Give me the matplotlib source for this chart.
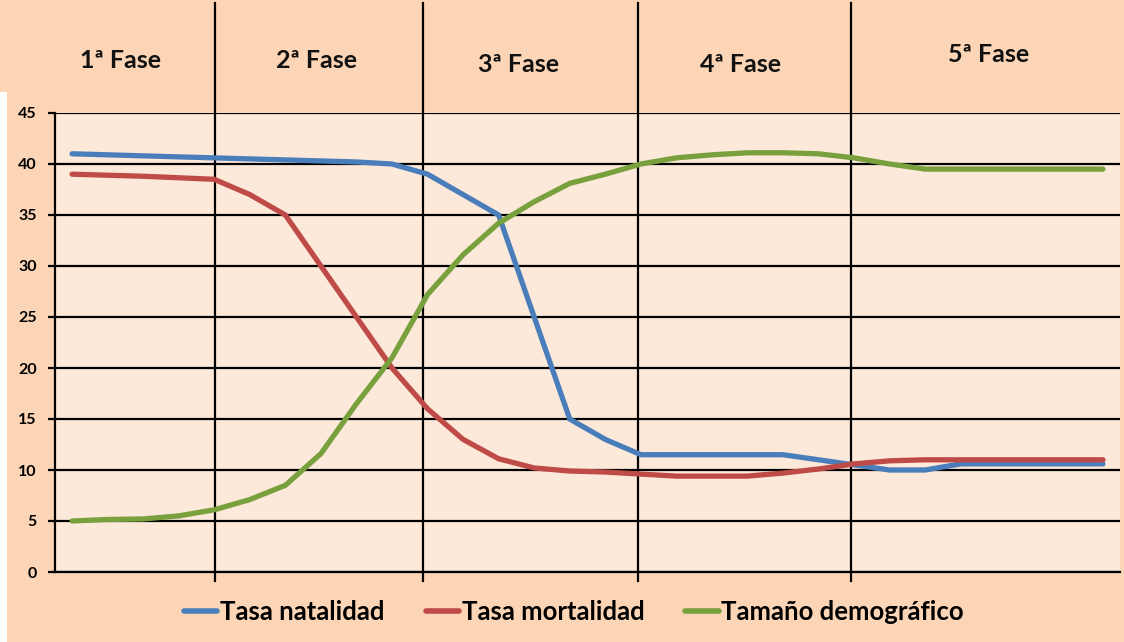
import matplotlib
matplotlib.use("Agg")
import matplotlib.pyplot as plt
from matplotlib.patches import Rectangle

# ---- data ----
points = list(range(30))
natalidad = [41.0, 40.9, 40.8, 40.7, 40.6, 40.5, 40.4, 40.3, 40.2, 40.0,
             39.0, 37.0, 35.0, 25.0, 15.0, 13.0, 11.5, 11.5, 11.5, 11.5,
             11.5, 11.0, 10.5, 10.0, 10.0, 10.6, 10.6, 10.6, 10.6, 10.6]
mortalidad = [39.0, 38.9, 38.8, 38.65, 38.5, 37.0, 35.0, 30.0, 25.0, 20.0,
              16.0, 13.0, 11.1, 10.2, 9.9, 9.8, 9.6, 9.4, 9.4, 9.4,
              9.7, 10.1, 10.6, 10.9, 11.0, 11.0, 11.0, 11.0, 11.0, 11.0]
demografico = [5.0, 5.15, 5.2, 5.5, 6.1, 7.1, 8.5, 11.6, 16.5, 21.0,
               27.2, 31.1, 34.2, 36.3, 38.1, 39.0, 40.0, 40.6, 40.9, 41.1,
               41.1, 41.0, 40.6, 40.0, 39.5, 39.5, 39.5, 39.5, 39.5, 39.5]
series_names = ["Tasa natalidad", "Tasa mortalidad", "Tamaño demográfico"]
phase_labels = ["1ª Fase", "2ª Fase", "3ª Fase", "4ª Fase", "5ª Fase"]
phase_bounds = [4.02, 9.87, 15.92, 21.91]
yticks = [0, 5, 10, 15, 20, 25, 30, 35, 40, 45]

# ---- style ----
W, H = 1124, 642
outer = "#FBD5B5"
inner = "#FDE9D9"
colors = ["#4A7EBB", "#BE4B48", "#78A03D"]
FONT = "Lato"

fig = plt.figure(figsize=(W / 100, H / 100), dpi=100, facecolor=outer)
# white strip at left edge
fig.patches.append(Rectangle((0, 0), 7 / W, (H - 92) / H, transform=fig.transFigure,
                             facecolor="white", edgecolor="none", zorder=0))

ax = fig.add_axes([55 / W, (H - 572) / H, (1120 - 55) / W, (572 - 113) / H])
ax.set_facecolor(inner)

for vals, c, name in zip([natalidad, mortalidad, demografico], colors, series_names):
    ax.plot(points, vals, color=c, lw=3.8, label=name, zorder=3,
            solid_joinstyle="miter", solid_capstyle="round")

ax.set_xlim(-0.48, 29.48)
ax.set_ylim(0, 45)
ax.set_yticks(yticks)
ax.set_xticks([])
ax.yaxis.grid(True, color="black", lw=1.6)
ax.set_axisbelow(True)
for s in ["top", "right"]:
    ax.spines[s].set_visible(False)
for s in ["left", "bottom"]:
    ax.spines[s].set_color("black")
    ax.spines[s].set_linewidth(1.6)
ax.tick_params(axis="y", length=5, width=1.6, pad=8, labelsize=11.5)
for lab in ax.get_yticklabels():
    lab.set_fontfamily(FONT)
    lab.set_fontweight("bold")

# phase separators, extending into the top band and below the axis
tr = ax.get_xaxis_transform()
top_frac = (572 - 3) / (572 - 113)
bot_frac = -9 / (572 - 113)
for b in phase_bounds:
    ax.plot([b, b], [bot_frac, top_frac], transform=tr, color="black", lw=1.6,
            clip_on=False, zorder=2)

# phase labels
label_pos = [(121, 61), (316, 61), (519, 64), (741, 64), (989, 55)]
for txt, (px, py) in zip(phase_labels, label_pos):
    fig.text(px / W, 1 - py / H, txt, ha="center", va="center",
             fontsize=18, fontweight="bold", family=FONT, color="#111111")

leg = ax.legend(loc="center", bbox_to_anchor=(574 / W, 1 - 612 / H),
                bbox_transform=fig.transFigure, ncol=3, frameon=False,
                prop={"family": FONT, "weight": "bold", "size": 18.5},
                handlelength=1.3, handletextpad=0.1, columnspacing=1.6)
for line in leg.get_lines():
    line.set_linewidth(4)

fig.savefig("out.png", dpi=100, facecolor=outer)
